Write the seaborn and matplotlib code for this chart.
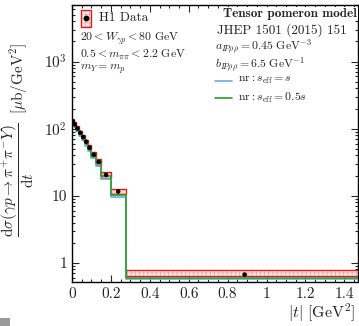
import matplotlib
matplotlib.use("Agg")
import matplotlib.pyplot as plt
import numpy as np
import pandas as pd
import seaborn as sns
from matplotlib.patches import Rectangle
from matplotlib.lines import Line2D
from matplotlib.ticker import FixedLocator, FuncFormatter, LogLocator, MultipleLocator, NullFormatter

# |t| bin edges [GeV^2]
t_edges = [0, 0.008, 0.02, 0.035, 0.05, 0.065, 0.08, 0.1, 0.125, 0.15, 0.2, 0.275, 1.5]
# H1 data (points), with box extents (total uncertainty)
h1_value = [128, 116, 101, 87, 75, 64, 52, 41, 32, 20.5, 11.6, 0.67]
h1_high = [138, 125, 109, 94, 81, 69, 56.5, 44.5, 35, 22.5, 12.7, 0.79]
h1_low = [118, 107, 93, 80, 69, 59, 47.5, 37.5, 29, 18.7, 10.6, 0.63]
# tensor pomeron model predictions
nr_seff_s = [120, 106, 92, 79, 67, 56, 46, 36, 28, 18, 9.6, 0.57]
nr_seff_half_s = [127, 113, 98, 84, 72, 61, 50, 39, 30.5, 19.5, 10.4, 0.60]

BLUE = "#6baed6"
GREEN = "#2ca02c"
RED = "#e31a1c"
PINK = "#fdeaea"
HATCH = "#f5a3a3"

sns.set_style("ticks")
plt.rcParams["font.family"] = ["cmr10", "DejaVu Serif"]
plt.rcParams["mathtext.fontset"] = "cm"
plt.rcParams["axes.formatter.use_mathtext"] = True
plt.rcParams["hatch.linewidth"] = 0.5
plt.rcParams["axes.unicode_minus"] = False

fig = plt.figure(figsize=(3.59, 3.26), dpi=100)
ax = fig.add_axes([0.2006, 0.135, 0.7964, 0.85])

edges = np.asarray(t_edges)
widths = np.diff(edges)
centers = edges[:-1] + widths / 2
lo = np.asarray(h1_low)
hi = np.asarray(h1_high)

# data boxes: hatched pink fill, then red outline
ax.bar(edges[:-1], hi - lo, width=widths, bottom=lo, align="edge",
       facecolor=PINK, edgecolor=HATCH, hatch="++++", linewidth=0, zorder=2)
ax.bar(edges[:-1], hi - lo, width=widths, bottom=lo, align="edge",
       fill=False, edgecolor=RED, linewidth=1.0, zorder=2.5)

# model step lines
for vals, color in ((nr_seff_s, BLUE), (nr_seff_half_s, GREEN)):
    frame = pd.DataFrame({"t": edges, "y": list(vals) + [vals[-1]]})
    sns.lineplot(data=frame, x="t", y="y", drawstyle="steps-post", color=color,
                 linewidth=1.2, estimator=None, sort=False, ax=ax, zorder=3)

points = pd.DataFrame({"t": centers, "y": h1_value})
sns.scatterplot(data=points, x="t", y="y", color="black", s=11, edgecolor="none", ax=ax, zorder=4)

ax.set_yscale("log")
ax.set_xlim(0, 1.47)
ax.set_ylim(0.52, 7000)
ax.set_xlabel("")
ax.set_ylabel("")

ax.xaxis.set_major_locator(MultipleLocator(0.2))
ax.xaxis.set_minor_locator(MultipleLocator(0.05))
ax.xaxis.set_major_formatter(FuncFormatter(lambda v, p: "0" if abs(v) < 1e-9 else ("%g" % round(v, 2))))
ax.yaxis.set_major_locator(FixedLocator([1, 10, 100, 1000]))
ax.yaxis.set_minor_locator(LogLocator(base=10, subs=np.arange(2, 10)))
ax.yaxis.set_minor_formatter(NullFormatter())
ylabels = {1: "1", 10: "10", 100: r"$10^2$", 1000: r"$10^3$"}
ax.yaxis.set_major_formatter(FuncFormatter(lambda v, p: ylabels.get(int(round(v)), "")))
ax.tick_params(which="both", direction="in", top=True, right=True, width=0.8, labelsize=11)
ax.tick_params(which="major", length=5)
ax.tick_params(which="minor", length=2.5)
for s in ax.spines.values():
    s.set_linewidth(1.0)
    s.set_color("black")

FS = 8.5
# legend for data
ax.add_patch(Rectangle((0.030, 0.922), 0.038, 0.06, transform=ax.transAxes,
                       facecolor=PINK, edgecolor=HATCH, hatch="++++", linewidth=0, zorder=5))
ax.add_patch(Rectangle((0.030, 0.922), 0.038, 0.06, transform=ax.transAxes,
                       fill=False, edgecolor=RED, linewidth=1.0, zorder=5))
ax.plot([0.049], [0.952], "o", color="black", markersize=3.2, transform=ax.transAxes, zorder=6)
ax.text(0.094, 0.952, "H1 Data", transform=ax.transAxes, fontsize=9.5, va="center")

ax.text(0.028, 0.878, r"$20 < W_{\gamma p} < 80\ \mathrm{GeV}$", transform=ax.transAxes, fontsize=FS, va="center")
ax.text(0.028, 0.822, r"$0.5 < m_{\pi\pi} < 2.2\ \mathrm{GeV}$", transform=ax.transAxes, fontsize=FS, va="center")
ax.text(0.028, 0.767, r"$m_Y = m_p$", transform=ax.transAxes, fontsize=FS, va="center")

ax.text(0.997, 0.968, "Tensor pomeron model", transform=ax.transAxes, fontsize=9.5, va="center",
        ha="right", fontfamily="cmb10", zorder=7,
        bbox=dict(facecolor="white", edgecolor="none", pad=0.5))
ax.text(0.734, 0.910, "JHEP 1501 (2015) 151", transform=ax.transAxes, fontsize=9.5, va="center", ha="center")
ax.text(0.50, 0.848, r"$a_{I\!P\rho\rho} = 0.45\ \mathrm{GeV}^{-3}$", transform=ax.transAxes, fontsize=FS, va="center")
ax.text(0.50, 0.785, r"$b_{I\!P\rho\rho} = 6.5\ \mathrm{GeV}^{-1}$", transform=ax.transAxes, fontsize=FS, va="center")
for yy, color, label in ((0.726, BLUE, r"$\mathrm{nr} : s_{\mathrm{eff}} = s$"),
                         (0.664, GREEN, r"$\mathrm{nr} : s_{\mathrm{eff}} = 0.5s$")):
    ax.add_line(Line2D([0.50, 0.559], [yy, yy], color=color, linewidth=1.2, transform=ax.transAxes))
    ax.text(0.58, yy, label, transform=ax.transAxes, fontsize=FS, va="center")

fig.text(18 / 359, 1 - 140 / 326,
         r"$\dfrac{\mathrm{d}\sigma(\gamma p\to\pi^{+}\pi^{-}Y)}{\mathrm{d}t}\ \ [\mu\mathrm{b}/\mathrm{GeV}^2]$",
         rotation=90, ha="center", va="center", fontsize=11)
fig.text(355 / 359, 1 - 313 / 326, r"$|t|\ [\mathrm{GeV}^2]$", ha="right", va="center", fontsize=11.5)

fig.patches.append(Rectangle((0, 0), 10 / 359, 8 / 326, transform=fig.transFigure,
                             facecolor="#9a9a9a", edgecolor="none"))

fig.savefig("out.png", dpi=100)
